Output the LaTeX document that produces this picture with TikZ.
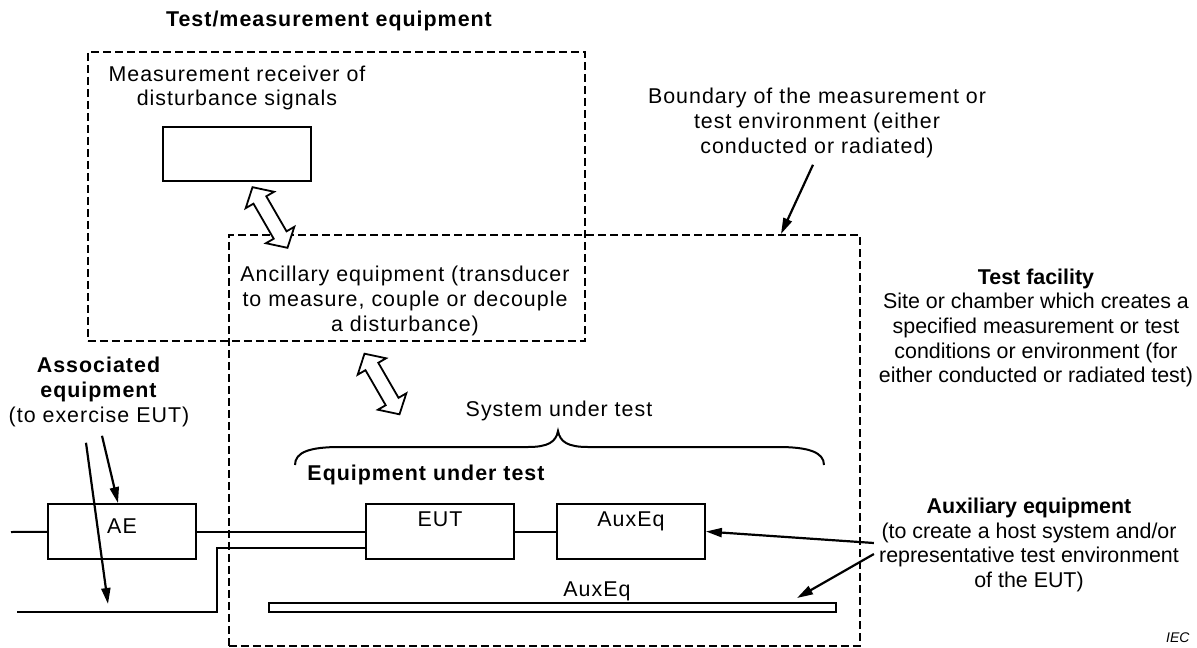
\documentclass[tikz,border=0pt]{standalone}
\usepackage{fontspec}
\setmainfont{Liberation Sans}
\newfontfamily\spaced[LetterSpace=4.7]{Liberation Sans}
\usetikzlibrary{arrows.meta,shapes.arrows,positioning}
\begin{document}
\begin{tikzpicture}[x=1pt,y=-1pt]
    \tikzstyle{arrow} = [-{Triangle[length=16pt,width=9pt]}, line width=2.2pt]
    \tikzstyle{wire} = [line width=2pt]
    \tikzstyle{dbox} = [rectangle, draw=black, dash pattern=on 8pt off 4pt,
        line width=1.5pt, inner sep=0pt]
    \tikzstyle{rec} = [rectangle, draw=black, line width=1.8pt,
        minimum width=148pt, minimum height=55pt, inner sep=0pt]
    \tikzstyle{lbl} = [align=center, inner sep=0pt,
        font=\spaced\fontsize{21.4}{24.6}\selectfont]
    \tikzstyle{plain} = [align=center, inner sep=0pt,
        font=\fontsize{21.4}{24.6}\selectfont]
    \tikzstyle{darrow} = [double arrow, draw=black, fill=white,
        line width=1.8pt, minimum height=70pt, inner xsep=0pt,
        inner ysep=6.5pt, double arrow head extend=9pt,
        double arrow tip angle=96, rotate=-60]

    \useasboundingbox (0,0) rectangle (1197,648);

    \node(testequip) [dbox, minimum width=497pt, minimum height=289pt]
        at (87,51) [anchor=north west] {};
    \node(envbox) [dbox, minimum width=631pt, minimum height=411pt]
        at (228,234) [anchor=north west] {};

    \node(title) [lbl, font=\spaced\bfseries\fontsize{21.4}{24.6}\selectfont]
        at (329,21) {Test/measurement equipment};
    \node(receiverlbl) [lbl] at (237,88)
        {Measurement receiver of\\ disturbance signals};
    \node(receiver) [rec, minimum height=54pt] at (237,154) {};
    \node(ancillary) [lbl] at (405,301)
        {Ancillary equipment (transducer\\ to measure, couple or decouple\\
        a disturbance)};
    \node(boundary) [lbl] at (817,123)
        {Boundary of the measurement or\\ test environment (either\\
        conducted or radiated)};
    \node(facility) [plain] at (1036,328)
        {\textbf{Test facility}\\ Site or chamber which creates a\\
        specified measurement or test\\ conditions or environment (for\\
        either conducted or radiated test)};
    \node(assoc) [lbl] at (99,392)
        {\textbf{Associated}\\ \textbf{equipment}\\ (to exercise EUT)};
    \node(sut) [lbl] at (559,411) {System under test};
    \node(eutlbl) [lbl, font=\spaced\bfseries\fontsize{21.4}{24.6}\selectfont]
        at (426,475) {Equipment under test};
    \node(aux) [plain] at (1029,545)
        {\textbf{Auxiliary equipment}\\ (to create a host system and/or\\
        representative test environment\\ of the EUT)};

    \node(ae) [rec, label={[lbl, anchor=north, yshift=-15pt]north:AE}]
        at (122,531.5) {};
    \node(eut) [rec, label={[lbl, anchor=north, yshift=-8.5pt]north:EUT}]
        at (440,531.5) {};
    \node(auxbox) [rec, right of=eut, node distance=191pt,
        label={[lbl, anchor=north, yshift=-8.5pt]north:AuxEq}] {};
    \node(bar) [rectangle, draw=black, line width=1.8pt, minimum width=567pt,
        minimum height=9pt, inner sep=0pt] at (552.5,607.5) {};
    \node(barlbl) [lbl] at (597,591) {AuxEq};

    \node(arrowa) [darrow] at (270,217.5) {};
    \node(arrowb) [darrow] at (382,384) {};

    \node(iec) [font=\itshape\fontsize{14}{16}\selectfont, inner sep=0pt,
        anchor=west] at (1166,638) {IEC};

    \coordinate(wirein) at (11,532);
    \coordinate(wireout) at (17,612);
    \coordinate(bend) at (217,612);
    \coordinate(bhit) at (781,234);
    \coordinate(wirehit) at (108,604);
    \coordinate(barhit) at (797,598);

    \draw[wire] (wirein) -- (ae);
    \draw[wire] (ae) -- (eut);
    \draw[wire] (eut) -- (auxbox);
    \draw[wire] ([shift={(0,16.5)}]eut.west) -| (bend) -- (wireout);

    \draw[wire] (295,465) .. controls (295,452) and (310,447) .. (340,447)
        -- (528,447) .. controls (548,447) and (556,442) .. (558,431)
        .. controls (560,442) and (568,447) .. (588,447)
        -- (778,447) .. controls (808,447) and (824,452) .. (824,465);

    \draw[arrow] ([shift={(-4,7)}]boundary.south) -- (bhit);
    \draw[arrow] ([shift={(3,9)}]assoc.south) -- ([xshift=-4pt]ae.north);
    \draw[arrow] ([shift={(-13,16)}]assoc.south) -- (wirehit);
    \draw[arrow] ([shift={(-5,-2)}]aux.west) -- (auxbox.east);
    \draw[arrow] ([shift={(-5,9)}]aux.west) -- (barhit);
\end{tikzpicture}
\end{document}
